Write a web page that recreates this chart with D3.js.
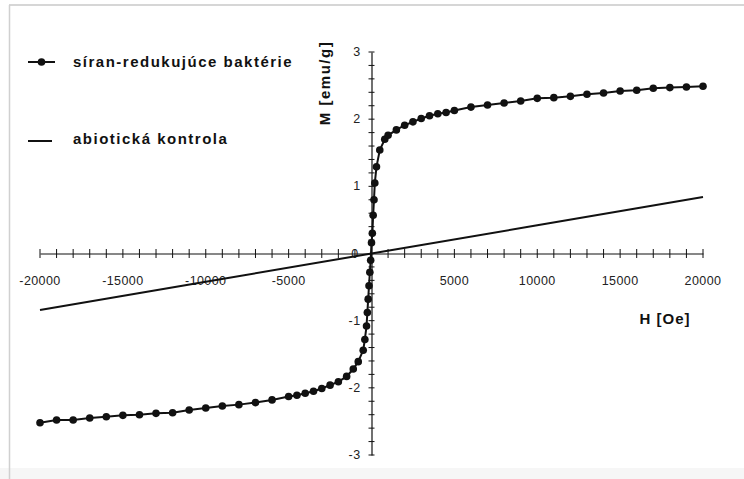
<!DOCTYPE html>
<html>
<head>
<meta charset="utf-8">
<script src="https://cdn.jsdelivr.net/npm/d3@7"></script>
<style>
    body { margin: 0; background: #fff; }
    svg { display: block; }
    .tick-label { font-family: "Liberation Sans", Arial, sans-serif; font-size: 12.5px; fill: #222; letter-spacing: 0.4px; }
    .title { font-family: "Liberation Sans", Arial, sans-serif; font-size: 15px; font-weight: bold; fill: #111; letter-spacing: 1.5px; }
</style>
</head>
<body>
<svg id="canvas" width="744" height="479"></svg>
<script>
// magnetisation curve, sulphate-reducing bacteria (H in Oe, M in emu/g)
var bactH = [-20000, -19000, -18000, -17000, -16000, -15000, -14000, -13000, -12000, -11000,
    -10000, -9000, -8000, -7000, -6000, -5000, -4500, -4000, -3500, -3000, -2500, -2000,
    -1500, -1100, -800, -500, -400, -300, -250, -200, -150, -100, -50, 0, 50, 100, 150, 200,
    300, 500, 800, 1000, 1500, 2000, 2500, 3000, 3500, 4000, 4500, 5000, 6000, 7000, 8000,
    9000, 10000, 11000, 12000, 13000, 14000, 15000, 16000, 17000, 18000, 19000, 20000];
var bactM = [-2.52, -2.48, -2.48, -2.45, -2.43, -2.41, -2.40, -2.38, -2.37, -2.33,
    -2.30, -2.27, -2.25, -2.22, -2.18, -2.13, -2.11, -2.08, -2.05, -2.01, -1.96, -1.91,
    -1.83, -1.72, -1.61, -1.44, -1.28, -1.08, -0.88, -0.68, -0.48, -0.28, -0.10, 0.16, 0.30, 0.57, 0.80, 1.05,
    1.29, 1.54, 1.70, 1.76, 1.84, 1.91, 1.96, 2.01, 2.05, 2.08, 2.10, 2.13, 2.18, 2.21, 2.24,
    2.27, 2.31, 2.32, 2.34, 2.37, 2.39, 2.42, 2.43, 2.46, 2.47, 2.48, 2.49];

// abiotic control
var ctrlH = [-20000, -10000, 0, 10000, 20000];
var ctrlM = [-0.84, -0.42, 0, 0.42, 0.84];

var xLabelValues = [-20000, -15000, -10000, -5000, 5000, 10000, 15000, 20000];
var yLabelValues = [-3, -2, -1, 0, 1, 2, 3];
var legendLabels = ["síran-redukujúce baktérie", "abiotická kontrola"];

var svg = d3.select("#canvas");

// frame of the picture
svg.append("rect").attr("x", 0).attr("y", 468).attr("width", 744).attr("height", 11).attr("fill", "#f6f6f6");
svg.append("line").attr("x1", 9).attr("x2", 744).attr("y1", 5).attr("y2", 5).attr("stroke", "#c8c8c8").attr("stroke-width", 1.5);
svg.append("line").attr("x1", 9.5).attr("x2", 9.5).attr("y1", 5).attr("y2", 479).attr("stroke", "#d0d0d0").attr("stroke-width", 1.5);

var x = d3.scaleLinear().domain([-20000, 20000]).range([40, 703]);
var y = d3.scaleLinear().domain([-3, 3]).range([455, 52]);

var g = svg.append("g");

// x axis through M = 0, ticks crossing the line
var xAxis = d3.axisBottom(x).tickValues(d3.range(-20000, 20001, 1000)).tickSize(0).tickFormat("");
g.append("g").attr("transform", "translate(0," + y(0) + ")").call(xAxis)
    .call(function (a) { a.select(".domain").attr("stroke", "#111").attr("stroke-width", 1.2); });
g.append("g").selectAll("line").data(d3.range(-20000, 20001, 1000)).join("line")
    .attr("x1", function (d) { return x(d); }).attr("x2", function (d) { return x(d); })
    .attr("y1", y(0) - 4.5).attr("y2", y(0) + 4.5)
    .attr("stroke", "#111").attr("stroke-width", 1);
g.append("g").selectAll("text").data(xLabelValues).join("text")
    .attr("class", "tick-label")
    .attr("x", function (d) { return x(d); })
    .attr("y", y(0) + 31)
    .attr("text-anchor", "middle")
    .text(function (d) { return d; });

// y axis through H = 0
var yAxis = d3.axisLeft(y).tickValues([]).tickSize(0);
g.append("g").attr("transform", "translate(" + x(0) + ",0)").call(yAxis)
    .call(function (a) { a.select(".domain").attr("stroke", "#111").attr("stroke-width", 1.2); });
var yMinor = d3.range(-15, 16).map(function (d) { return d / 5; });
g.append("g").selectAll("line").data(yMinor).join("line")
    .attr("x1", x(0) - 3).attr("x2", x(0) + 3)
    .attr("y1", function (d) { return y(d); }).attr("y2", function (d) { return y(d); })
    .attr("stroke", "#111").attr("stroke-width", 1);
g.append("g").selectAll("text").data(yLabelValues).join("text")
    .attr("class", "tick-label")
    .attr("x", function (d) { return d === 0 ? x(0) - 13 : x(0) - 11; })
    .attr("y", function (d) { return y(d) + 4; })
    .attr("text-anchor", "end")
    .text(function (d) { return d; });

// abiotic control line
var ctrl = ctrlH.map(function (h, i) { return [h, ctrlM[i]]; });
var line = d3.line().x(function (d) { return x(d[0]); }).y(function (d) { return y(d[1]); });
g.append("path").datum(ctrl).attr("d", line)
    .attr("fill", "none").attr("stroke", "#111").attr("stroke-width", 2);

// bacteria curve with markers
var bact = bactH.map(function (h, i) { return [h, bactM[i]]; });
g.append("path").datum(bact).attr("d", line)
    .attr("fill", "none").attr("stroke", "#111").attr("stroke-width", 2);
g.append("g").selectAll("circle").data(bact).join("circle")
    .attr("cx", function (d) { return x(d[0]); })
    .attr("cy", function (d) { return y(d[1]); })
    .attr("r", 3.8)
    .attr("fill", "#111");

// axis titles
svg.append("text").attr("class", "title")
    .attr("transform", "translate(330,83) rotate(-90)")
    .attr("text-anchor", "middle")
    .text("M [emu/g]");
svg.append("text").attr("class", "title")
    .style("letter-spacing", "1px")
    .attr("x", 665).attr("y", 324)
    .attr("text-anchor", "middle")
    .text("H [Oe]");

// legend
var legend = svg.append("g");
legend.append("line").attr("x1", 28).attr("x2", 55).attr("y1", 62).attr("y2", 62).attr("stroke", "#111").attr("stroke-width", 2);
legend.append("circle").attr("cx", 41.5).attr("cy", 62).attr("r", 3.8).attr("fill", "#111");
legend.append("line").attr("x1", 28).attr("x2", 52).attr("y1", 141).attr("y2", 141).attr("stroke", "#111").attr("stroke-width", 2);
legend.selectAll("text").data(legendLabels).join("text")
    .attr("class", "title")
    .attr("x", 73)
    .attr("y", function (d, i) { return i === 0 ? 67 : 144; })
    .text(function (d) { return d; });
</script>
</body>
</html>
